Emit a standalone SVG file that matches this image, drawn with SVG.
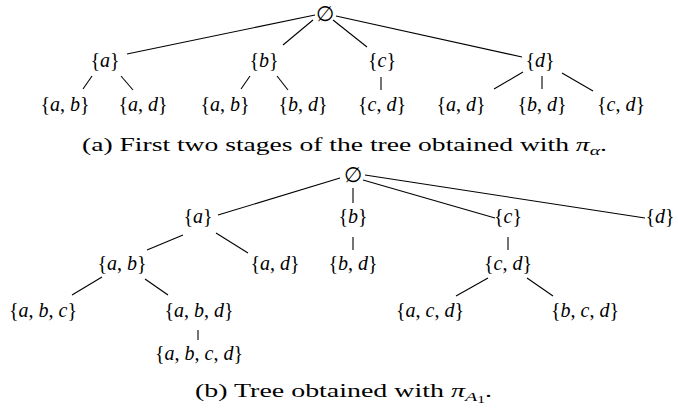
<svg xmlns="http://www.w3.org/2000/svg" width="678" height="419" viewBox="0 0 678 419">
<style>
.n{font-family:"Liberation Serif","DejaVu Serif",serif;font-size:20px;fill:#000;text-anchor:middle}
.e{font-family:"DejaVu Serif","Liberation Serif",serif;font-size:21px;fill:#000;text-anchor:middle}
.i{font-style:italic}
.cap{font-family:"Liberation Serif","DejaVu Serif",serif;font-size:18px;fill:#000}
.sub{font-size:13px}
#edges line{stroke:#000;stroke-width:1.1}
</style>
<rect width="678" height="419" fill="#fff"/>
<g id="edges">
<!-- tree a -->
<line x1="315" y1="15" x2="127" y2="54"/>
<line x1="313" y1="20" x2="283" y2="45"/>
<line x1="333" y1="20" x2="367" y2="47"/>
<line x1="336" y1="16" x2="522" y2="57"/>
<line x1="92" y1="76" x2="83" y2="89"/>
<line x1="121" y1="76" x2="133" y2="90"/>
<line x1="250" y1="76" x2="241" y2="89"/>
<line x1="277" y1="76" x2="288" y2="90"/>
<line x1="381" y1="77" x2="381" y2="90"/>
<line x1="523" y1="72" x2="494" y2="89"/>
<line x1="542" y1="76" x2="542" y2="89"/>
<line x1="562" y1="73" x2="593" y2="91"/>
<!-- tree b -->
<line x1="340" y1="178" x2="218" y2="215"/>
<line x1="353" y1="188" x2="353" y2="203"/>
<line x1="363" y1="180" x2="495" y2="218"/>
<line x1="365" y1="175" x2="645" y2="218"/>
<line x1="183" y1="235" x2="147" y2="250"/>
<line x1="216" y1="233" x2="248" y2="253"/>
<line x1="353" y1="237" x2="353" y2="250"/>
<line x1="508" y1="237" x2="508" y2="250"/>
<line x1="102" y1="277" x2="72" y2="295"/>
<line x1="145" y1="279" x2="168" y2="295"/>
<line x1="198" y1="330" x2="198" y2="340"/>
<line x1="488" y1="278" x2="456" y2="296"/>
<line x1="527" y1="278" x2="553" y2="296"/>
</g>
<!-- tree a nodes -->
<g id="a-root"><text class="e" x="325" y="21">∅</text></g>
<g id="a-a"><text class="n" x="105" y="67">{<tspan class="i">a</tspan>}</text></g>
<g id="a-b"><text class="n" x="264" y="67">{<tspan class="i">b</tspan>}</text></g>
<g id="a-c"><text class="n" x="382" y="67">{<tspan class="i">c</tspan>}</text></g>
<g id="a-d"><text class="n" x="540" y="67">{<tspan class="i">d</tspan>}</text></g>
<g id="a-ab1"><text class="n" x="65" y="111">{<tspan class="i">a</tspan>, <tspan class="i">b</tspan>}</text></g>
<g id="a-ad1"><text class="n" x="143" y="111">{<tspan class="i">a</tspan>, <tspan class="i">d</tspan>}</text></g>
<g id="a-ab2"><text class="n" x="225" y="111">{<tspan class="i">a</tspan>, <tspan class="i">b</tspan>}</text></g>
<g id="a-bd1"><text class="n" x="303" y="111">{<tspan class="i">b</tspan>, <tspan class="i">d</tspan>}</text></g>
<g id="a-cd1"><text class="n" x="382" y="111">{<tspan class="i">c</tspan>, <tspan class="i">d</tspan>}</text></g>
<g id="a-ad2"><text class="n" x="461" y="111">{<tspan class="i">a</tspan>, <tspan class="i">d</tspan>}</text></g>
<g id="a-bd2"><text class="n" x="542" y="111">{<tspan class="i">b</tspan>, <tspan class="i">d</tspan>}</text></g>
<g id="a-cd2"><text class="n" x="621" y="111">{<tspan class="i">c</tspan>, <tspan class="i">d</tspan>}</text></g>
<g id="cap-a"><text class="cap" x="82" y="151" textLength="525" lengthAdjust="spacingAndGlyphs">(a) First two stages of the tree obtained with <tspan class="i">π</tspan><tspan class="i sub" dy="4">α</tspan><tspan dy="-4">.</tspan></text></g>
<!-- tree b nodes -->
<g id="b-root"><text class="e" x="353" y="182">∅</text></g>
<g id="b-a"><text class="n" x="198" y="223">{<tspan class="i">a</tspan>}</text></g>
<g id="b-b"><text class="n" x="353" y="223">{<tspan class="i">b</tspan>}</text></g>
<g id="b-c"><text class="n" x="508" y="223">{<tspan class="i">c</tspan>}</text></g>
<g id="b-d"><text class="n" x="660" y="223">{<tspan class="i">d</tspan>}</text></g>
<g id="b-ab"><text class="n" x="122" y="270">{<tspan class="i">a</tspan>, <tspan class="i">b</tspan>}</text></g>
<g id="b-ad"><text class="n" x="275" y="270">{<tspan class="i">a</tspan>, <tspan class="i">d</tspan>}</text></g>
<g id="b-bd"><text class="n" x="353" y="270">{<tspan class="i">b</tspan>, <tspan class="i">d</tspan>}</text></g>
<g id="b-cd"><text class="n" x="508" y="270">{<tspan class="i">c</tspan>, <tspan class="i">d</tspan>}</text></g>
<g id="b-abc"><text class="n" x="43" y="317">{<tspan class="i">a</tspan>, <tspan class="i">b</tspan>, <tspan class="i">c</tspan>}</text></g>
<g id="b-abd"><text class="n" x="199" y="317">{<tspan class="i">a</tspan>, <tspan class="i">b</tspan>, <tspan class="i">d</tspan>}</text></g>
<g id="b-acd"><text class="n" x="430" y="317">{<tspan class="i">a</tspan>, <tspan class="i">c</tspan>, <tspan class="i">d</tspan>}</text></g>
<g id="b-bcd"><text class="n" x="585" y="317">{<tspan class="i">b</tspan>, <tspan class="i">c</tspan>, <tspan class="i">d</tspan>}</text></g>
<g id="b-abcd"><text class="n" x="199" y="360">{<tspan class="i">a</tspan>, <tspan class="i">b</tspan>, <tspan class="i">c</tspan>, <tspan class="i">d</tspan>}</text></g>
<g id="cap-b"><text class="cap" x="195" y="397" textLength="297" lengthAdjust="spacingAndGlyphs">(b) Tree obtained with <tspan class="i">π</tspan><tspan class="i sub" dy="4">A</tspan><tspan style="font-size:10px" dy="2">1</tspan><tspan dy="-6">.</tspan></text></g>
</svg>
